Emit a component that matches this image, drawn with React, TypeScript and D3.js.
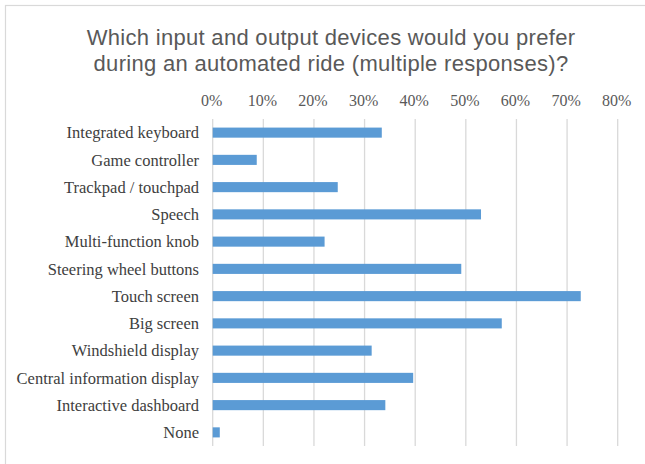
import React from "react";
import * as d3 from "d3";

const categories = [
  "Integrated keyboard",
  "Game controller",
  "Trackpad / touchpad",
  "Speech",
  "Multi-function knob",
  "Steering wheel buttons",
  "Touch screen",
  "Big screen",
  "Windshield display",
  "Central information display",
  "Interactive dashboard",
  "None",
];
const values = [33.4, 8.7, 24.7, 53.0, 22.1, 49.1, 72.7, 57.1, 31.4, 39.6, 34.1, 1.4];
const ticks = [0, 10, 20, 30, 40, 50, 60, 70, 80];
const titleLines = [
  "Which input and output devices would you prefer",
  "during an automated ride (multiple responses)?",
];

const W = 645;
const H = 464;
const plot = { left: 212.7, right: 617.7, top: 119, bottom: 446 };

export default function App() {
  const x = d3.scaleLinear().domain([0, 80]).range([plot.left, plot.right]);
  const y = d3
    .scaleBand<string>()
    .domain(categories)
    .range([plot.top, plot.bottom])
    .paddingInner(0.63)
    .paddingOuter(0.315);
  const serif = "'Liberation Serif', 'Times New Roman', serif";
  const sans = "'Liberation Sans', Arial, Helvetica, sans-serif";
  return (
    <svg
      width={W}
      height={H}
      style={{ position: "absolute", left: 0, top: 0, background: "#fff" }}
    >
      <rect x={5.5} y={5.5} width={W + 20} height={H + 20} fill="#fff" stroke="#d9d9d9" strokeWidth={1.2} />
      {titleLines.map((t, i) => (
        <text
          key={i}
          x={331}
          y={45 + i * 26}
          textAnchor="middle"
          fontFamily={sans}
          fontSize={22}
          letterSpacing={0.3}
          fill="#595959"
        >
          {t}
        </text>
      ))}
      {ticks.map((t) => (
        <g key={t}>
          <line x1={x(t)} x2={x(t)} y1={plot.top} y2={plot.bottom} stroke="#d9d9d9" strokeWidth={1.3} />
          <text
            x={x(t) - 1}
            y={106}
            textAnchor="middle"
            fontFamily={serif}
            fontSize={16}
            fill="#595959"
          >
            {t + "%"}
          </text>
        </g>
      ))}
      {categories.map((c, i) => (
        <g key={c}>
          <rect
            x={x(0)}
            y={y(c)!}
            width={x(values[i]) - x(0)}
            height={y.bandwidth()}
            fill="#5b9bd5"
          />
          <text
            x={199}
            y={y(c)! + y.bandwidth() / 2 + 5.8}
            textAnchor="end"
            fontFamily={serif}
            fontSize={16.5}
            fill="#404040"
          >
            {c}
          </text>
        </g>
      ))}
    </svg>
  );
}
